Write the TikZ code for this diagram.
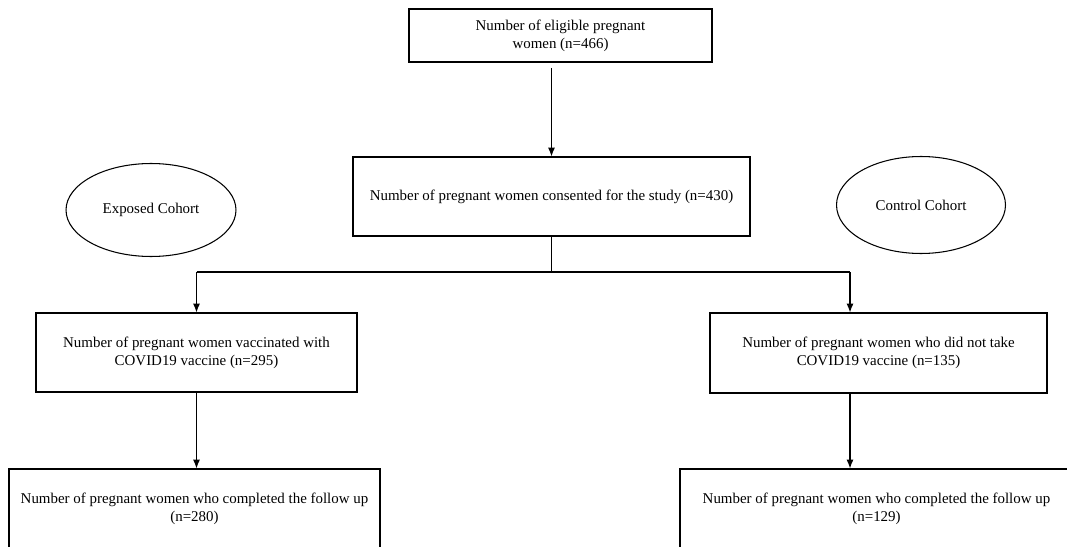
\documentclass[tikz,border=0pt]{standalone}
\usepackage{fontspec}
\setmainfont{Liberation Serif}
\usetikzlibrary{arrows.meta,shapes.geometric}
\tikzset{
    flowbox/.style={rectangle,draw,line width=0.7pt,align=center,inner sep=0pt,font=\fontsize{8.5}{10.2}\selectfont},
    cohort/.style={ellipse,draw,line width=0.6pt,inner sep=0pt,font=\fontsize{8.5}{10.2}\selectfont},
    directed/.style={arrows={-Latex[length=5pt,width=4pt]},line width=0.6pt},
    plain/.style={line width=0.6pt},
    }
\begin{document}
\begin{tikzpicture}[x=0.02cm,y=-0.02cm]
	\useasboundingbox (0,0) rectangle (1067,547);
	\clip (0,0) rectangle (1067,547);
		\node[flowbox,minimum width=6.06cm,minimum height=1.06cm] (elig) at (560.5,35.5) {Number of eligible pregnant\\women (n=466)};
		\node[flowbox,minimum width=7.94cm,minimum height=1.58cm] (consent) at (551.5,196.5) {Number of pregnant women consented for the study (n=430)};
		\node[cohort,minimum width=3.4cm,minimum height=1.86cm] (exposed) at (151,210) {Exposed Cohort};
		\node[cohort,minimum width=3.38cm,minimum height=1.94cm] (control) at (921,205) {Control Cohort};
		\node[flowbox,minimum width=6.42cm,minimum height=1.58cm] (vacc) at (196.5,352.5) {Number of pregnant women vaccinated with\\COVID19 vaccine (n=295)};
		\node[flowbox,minimum width=6.74cm,minimum height=1.6cm] (novacc) at (878.5,353) {Number of pregnant women who did not take\\COVID19 vaccine (n=135)};
		\node[flowbox,minimum width=7.42cm,minimum height=1.6cm] (fuvacc) at (194.5,509) {Number of pregnant women who completed the follow up\\(n=280)};
		\node[flowbox,minimum width=7.86cm,minimum height=1.6cm] (funovacc) at (876.5,509) {Number of pregnant women who completed the follow up\\(n=129)};
		\coordinate (splitl) at (196.5,272);
		\coordinate (splitr) at (850,272);

	\draw[directed] ([yshift=-3pt]elig.south -| consent.north) to (consent.north);
	\draw[plain] (consent.south) to (consent.south |- splitl);
	\draw[plain] (splitl) to (splitr);
	\draw[directed] (splitl) to (vacc.north);
	\draw[directed] (splitr) to (novacc.north -| splitr);
	\draw[directed] (vacc.south) to (vacc.south |- fuvacc.north);
	\draw[directed] (novacc.south -| splitr) to (funovacc.north -| splitr);
\end{tikzpicture}
\end{document}
